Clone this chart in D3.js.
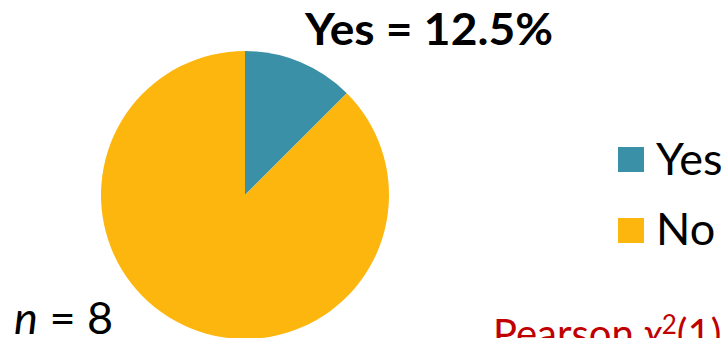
<!DOCTYPE html>
<html>
<head>
<meta charset="utf-8">
<script src="https://cdn.jsdelivr.net/npm/d3@7"></script>
<style>
  body { margin: 0; background: #fff; }
  text { font-family: Lato, "Open Sans", sans-serif; }
</style>
</head>
<body>
<div id="chart"></div>
<script>
const categories = ["Yes", "No"];
const counts = [1, 7];
const colors = ["#3a90a6", "#fdb60d"];
const n = 8;
const headline = "Yes = 12.5%";
const testName = "Pearson ";
const testSymbol = "\u03c7";

const width = 728, height = 338;
const cx = 245, cy = 195, radius = 144;

const svg = d3.select("#chart")
    .append("svg")
    .attr("width", width)
    .attr("height", height);

const pie = d3.pie().sort(null).value(d => d.value);
const arc = d3.arc().innerRadius(0).outerRadius(radius);

const slices = categories.map((c, i) => ({ name: c, value: counts[i] }));
const color = d3.scaleOrdinal().domain(categories).range(colors);

svg.append("g")
    .attr("transform", `translate(${cx},${cy})`)
    .selectAll("path")
    .data(pie(slices))
    .join("path")
    .attr("d", arc)
    .attr("fill", d => color(d.data.name));

// headline
svg.append("text")
    .attr("x", 305)
    .attr("y", 45)
    .attr("textLength", 248)
    .attr("lengthAdjust", "spacingAndGlyphs")
    .style("font-size", "44px")
    .style("font-weight", "bold")
    .text(headline);

// legend
const legend = svg.append("g");
categories.forEach((c, i) => {
    legend.append("rect")
        .attr("x", 618)
        .attr("y", 147 + i * 71)
        .attr("width", 26)
        .attr("height", 25)
        .attr("fill", color(c));
    legend.append("text")
        .attr("x", 656)
        .attr("y", 175 + i * 70)
        .style("font-size", "45px")
        .text(c);
});

// n label
const nt = svg.append("text")
    .attr("x", 14)
    .attr("y", 334)
    .style("font-size", "45px");
nt.append("tspan").style("font-style", "italic").text("n");
nt.append("tspan").text(" = " + n);

// test label (cut off at bottom, as in the original)
const pt = svg.append("text")
    .attr("x", 493)
    .attr("y", 348)
    .attr("fill", "#c00000")
    .style("font-size", "40px");
pt.append("tspan").text(testName);
pt.append("tspan").style("font-style", "italic").text(testSymbol);
pt.append("tspan").attr("dy", -14).style("font-size", "26px").text("2");
pt.append("tspan").attr("dy", 14).text("(1)");
</script>
</body>
</html>
